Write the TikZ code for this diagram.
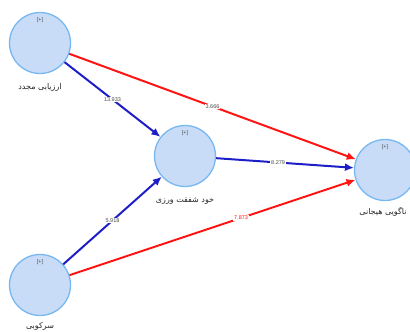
\documentclass[tikz,border=0pt]{standalone}
\usepackage{fontspec}
\usetikzlibrary{arrows.meta}
\setmainfont{Liberation Sans}
\newfontfamily\arabicfont[Script=Arabic]{DejaVu Sans}
\TeXXeTstate=1
\definecolor{cfill}{RGB}{200,220,248}
\definecolor{cborder}{RGB}{120,184,240}
\definecolor{pblue}{RGB}{30,30,200}
\definecolor{pred}{RGB}{255,20,20}
\begin{document}
\begin{tikzpicture}[x=1pt,y=-1pt]
      \useasboundingbox (0,0) rectangle (410,332);
      \clip (0,0) rectangle (410,332);

      \begin{scope}[every node/.style={circle,draw=cborder,fill=cfill,line width=1.3pt,minimum size=61pt,inner sep=0pt}]
        \node (1) at (40,43)   {};
        \node (2) at (185,156) {};
        \node (3) at (385,170) {};
        \node (4) at (40,285)  {};
      \end{scope}

      \begin{scope}[every node/.style={font=\fontsize{5.5}{6}\selectfont,text=gray!60!black}]
        \node (p1) at ([yshift=-8pt]1.north) {[+]};
        \node (p2) at ([yshift=-8pt]2.north) {[+]};
        \node (p3) at ([yshift=-8pt]3.north) {[+]};
        \node (p4) at ([yshift=-8pt]4.north) {[+]};
      \end{scope}

      \begin{scope}[every node/.style={font=\arabicfont\fontsize{8}{9}\selectfont,text=black!85}]
        \node (t1) at (40,87)   {\beginR ارزیابی مجدد\endR};
        \node (t2) at (185,201) {\beginR خود شفقت ورزی\endR};
        \node (t3) at (383,212) {\beginR ناگویی هیجانی\endR};
        \node (t4) at (40,326)  {\beginR سرکوبی\endR};
      \end{scope}

      \begin{scope}[every node/.style={fill=white,inner sep=1pt,font=\fontsize{5.5}{6}\selectfont,text=gray!60!black}]
        \begin{scope}[every edge/.style={draw,line width=2pt,-{Latex[length=9pt,width=8pt]}}]
          \path (1) edge[pblue] node {13.933} (2);
          \path (1) edge[pred]  node {3.666} (3);
          \path (2) edge[pblue] node[pos=0.45] {8.279} (3);
          \path (4) edge[pblue] node {5.918} (2);
          \path (4) edge[pred]  node[pos=0.6,text=pred] {7.873} (3);
        \end{scope}
      \end{scope}

    \end{tikzpicture}
\end{document}
